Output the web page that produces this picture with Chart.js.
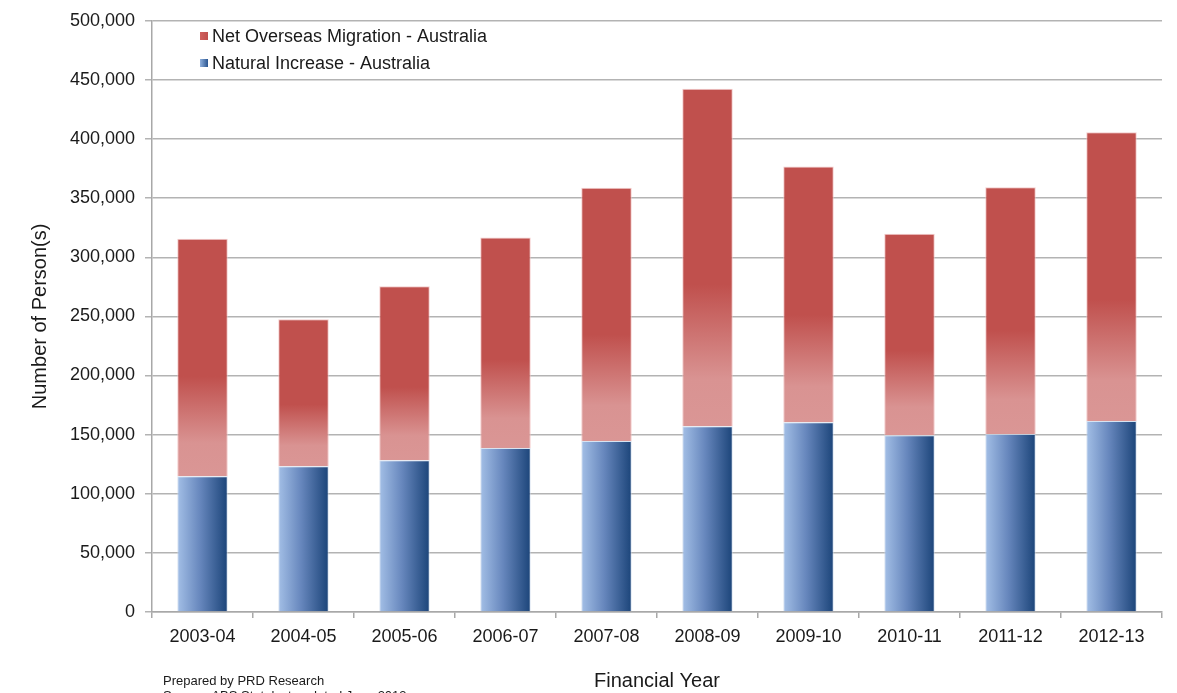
<!DOCTYPE html>
<html>
<head>
<meta charset="utf-8">
<script src="https://cdn.jsdelivr.net/npm/chart.js@4.4.1/dist/chart.umd.min.js"></script>
<style>
  html, body { margin: 0; padding: 0; background: #ffffff; }
  #wrap { width: 1177px; height: 693px; }
</style>
</head>
<body>
<div id="wrap"><canvas id="c" width="1177" height="693"></canvas></div>
<script>
const categories = ['2003-04','2004-05','2005-06','2006-07','2007-08','2008-09','2009-10','2010-11','2011-12','2012-13'];
const naturalIncrease = [114900, 123300, 128400, 138800, 144700, 157100, 160500, 149500, 150600, 161600];
const netOverseasMigration = [200700, 124200, 147200, 177900, 214000, 285500, 216200, 170300, 208600, 244100];
const yTicks = [0, 50000, 100000, 150000, 200000, 250000, 300000, 350000, 400000, 450000, 500000];
const seriesLabels = ['Net Overseas Migration - Australia', 'Natural Increase - Australia'];
const footerLines = ['Prepared by PRD Research', 'Source: ABS Stat, last updated June 2013'];

const FONT = "'Liberation Sans', Arial, sans-serif";
const BAR_PCT = 0.5;

function barHalfWidth(chart) {
  const ca = chart.chartArea;
  return (ca.width / categories.length) * BAR_PCT / 2;
}

function blueFill(ctx) {
  const chart = ctx.chart;
  if (!chart.chartArea || ctx.type !== 'data') return '#4f81bd';
  const x = chart.scales.x.getPixelForValue(ctx.dataIndex);
  const hw = barHalfWidth(chart);
  const g = chart.ctx.createLinearGradient(x - hw, 0, x + hw, 0);
  g.addColorStop(0, '#a3bfe6');
  g.addColorStop(0.45, '#6787bd');
  g.addColorStop(1, '#1b4479');
  return g;
}

function redFill(ctx) {
  const chart = ctx.chart;
  if (!chart.chartArea || ctx.type !== 'data') return '#c0504d';
  const i = ctx.dataIndex;
  const y = chart.scales.y;
  const base = y.getPixelForValue(naturalIncrease[i]);
  const top = y.getPixelForValue(naturalIncrease[i] + netOverseasMigration[i]);
  const g = chart.ctx.createLinearGradient(0, base, 0, top);
  g.addColorStop(0, '#da9695');
  g.addColorStop(0.14, '#d99392');
  g.addColorStop(0.42, '#c0504d');
  g.addColorStop(1, '#c0504d');
  return g;
}

const legendPlugin = {
  id: 'insideLegend',
  afterDraw(chart) {
    const c = chart.ctx;
    c.save();
    c.font = '18px ' + FONT;
    c.textBaseline = 'middle';
    c.textAlign = 'left';
    const items = [
      { label: chart.data.datasets[1].label, y: 36, colors: ['#d0605d', '#c0504d'] },
      { label: chart.data.datasets[0].label, y: 63, colors: ['#8fb0dd', '#2a5590'] }
    ];
    items.forEach(it => {
      const g = c.createLinearGradient(200, 0, 208, 0);
      g.addColorStop(0, it.colors[0]);
      g.addColorStop(1, it.colors[1]);
      c.fillStyle = g;
      c.fillRect(200, it.y - 4, 8, 8);
      c.fillStyle = '#1a1a1a';
      c.fillText(it.label, 212, it.y + 1);
    });
    c.restore();
  }
};

const footerPlugin = {
  id: 'footer',
  afterDraw(chart) {
    const c = chart.ctx;
    c.save();
    c.font = '13px ' + FONT;
    c.fillStyle = '#1a1a1a';
    c.textAlign = 'left';
    c.textBaseline = 'alphabetic';
    c.fillText(footerLines[0], 163, 685);
    c.fillText(footerLines[1], 163, 700);
    c.restore();
  }
};

new Chart(document.getElementById('c'), {
  type: 'bar',
  data: {
    labels: categories,
    datasets: [
      {
        label: seriesLabels[1],
        data: naturalIncrease,
        backgroundColor: blueFill,
        borderColor: 'rgba(200,215,235,0.7)',
        borderWidth: 1,
        barPercentage: BAR_PCT,
        categoryPercentage: 1.0
      },
      {
        label: seriesLabels[0],
        data: netOverseasMigration,
        backgroundColor: redFill,
        borderColor: 'rgba(240,190,190,0.8)',
        borderWidth: 1,
        barPercentage: BAR_PCT,
        categoryPercentage: 1.0
      }
    ]
  },
  options: {
    responsive: false,
    animation: false,
    layout: { padding: { top: 20, right: 15, left: 0, bottom: 0 } },
    plugins: {
      legend: { display: false },
      tooltip: { enabled: false }
    },
    scales: {
      x: {
        stacked: true,
        offset: true,
        grid: {
          display: true,
          offset: true,
          drawOnChartArea: false,
          drawTicks: true,
          tickLength: 6,
          color: '#a8a8a8',
          lineWidth: 1.5
        },
        border: { display: true, color: '#a8a8a8', width: 1.5 },
        ticks: {
          color: '#1a1a1a',
          font: { family: FONT, size: 18 },
          padding: 8,
          maxRotation: 0,
          autoSkip: false
        },
        title: {
          display: true,
          text: 'Financial Year',
          color: '#1a1a1a',
          font: { family: FONT, size: 20 },
          padding: { top: 0, bottom: 0 }
        },
        afterFit(scale) { scale.height = 81; }
      },
      y: {
        stacked: true,
        min: 0,
        max: 500000,
        afterBuildTicks(scale) { scale.ticks = yTicks.map(v => ({ value: v })); },
        grid: {
          color: '#b3b3b3',
          lineWidth: 1.5,
          drawTicks: true,
          tickLength: 7
        },
        border: { display: true, color: '#a8a8a8', width: 1.5 },
        ticks: {
          color: '#1a1a1a',
          font: { family: FONT, size: 18 },
          padding: 10,
          callback: v => Number(v).toLocaleString('en-US')
        },
        title: {
          display: true,
          text: 'Number of Person(s)',
          color: '#1a1a1a',
          font: { family: FONT, size: 20 },
          padding: { top: 28, bottom: 0 }
        },
        afterFit(scale) { scale.width = 152; }
      }
    }
  },
  plugins: [legendPlugin, footerPlugin]
});
</script>
</body>
</html>
